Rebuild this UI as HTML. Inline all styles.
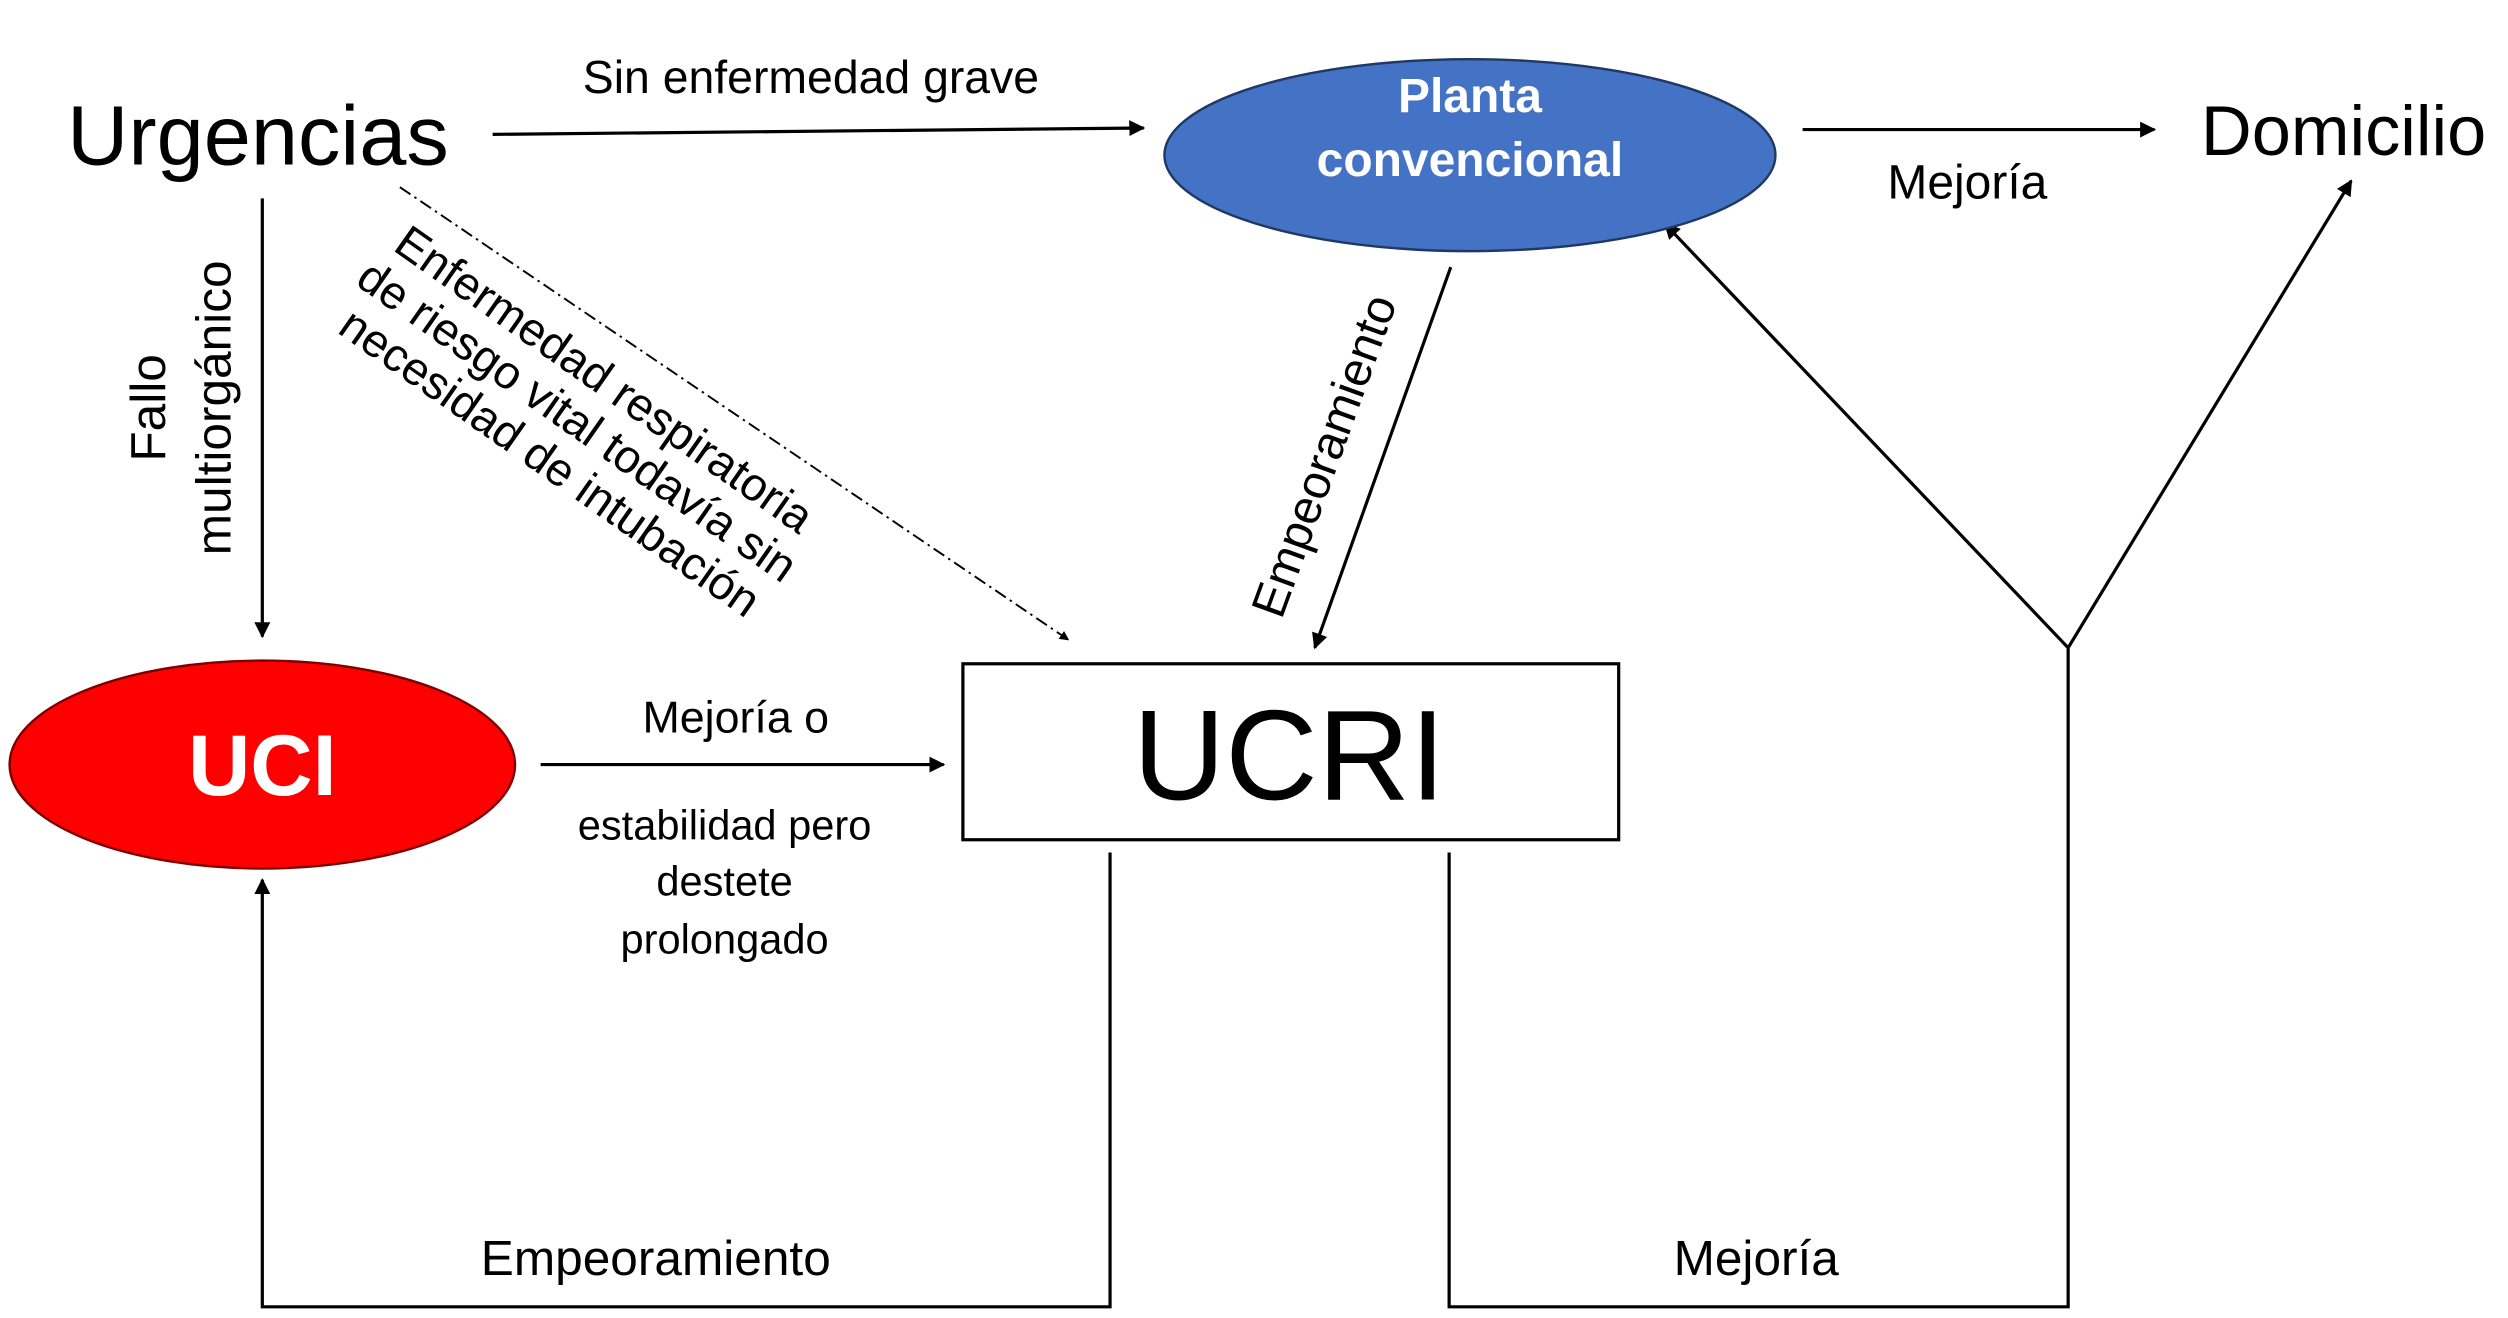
<!DOCTYPE html>
<html><head><meta charset="utf-8"><style>html,body{margin:0;padding:0;background:#fff}svg{display:block}text{font-family:"Liberation Sans",Arial,sans-serif}</style></head>
<body>
<svg width="2508" height="1318" viewBox="0 0 1568 824" xmlns="http://www.w3.org/2000/svg">
<defs>
<marker id="a" viewBox="0 0 10 10" refX="9" refY="5" markerWidth="5" markerHeight="5" orient="auto"><path d="M0,0 L10,5 L0,10 z" fill="#000"/></marker>
</defs>
<rect width="1568" height="824" fill="#fff"/>
<g stroke="#000" stroke-width="2" fill="none">
<line x1="308" y1="84" x2="715" y2="80" marker-end="url(#a)"/>
<line x1="1127" y1="81" x2="1347" y2="81" marker-end="url(#a)"/>
<line x1="164" y1="124" x2="164" y2="398" marker-end="url(#a)"/>
<line x1="250" y1="117" x2="668" y2="400" stroke-width="1.2" stroke-dasharray="8,3,1.5,3" marker-end="url(#a)"/>
<line x1="907" y1="167" x2="822" y2="405" marker-end="url(#a)"/>
<line x1="338" y1="478" x2="590" y2="478" marker-end="url(#a)"/>
<polyline points="694,533 694,817 164,817 164,550" marker-end="url(#a)"/>
<polyline points="906,533 906,817 1293,817 1293,405"/>
<line x1="1293" y1="405" x2="1041" y2="140" marker-end="url(#a)"/>
<line x1="1293" y1="405" x2="1470" y2="113" marker-end="url(#a)"/>
</g>
<ellipse cx="919" cy="97" rx="191" ry="60" fill="#4472C4" stroke="#1f3864" stroke-width="1.5"/>
<ellipse cx="164" cy="478" rx="158" ry="65" fill="#FF0000" stroke="#7f0000" stroke-width="1.5"/>
<rect x="602" y="415" width="410" height="110" fill="#fff" stroke="#000" stroke-width="2"/>
<g fill="#000">
<text x="42" y="103" font-size="53">Urgencias</text>
<text x="507" y="58" font-size="29" text-anchor="middle">Sin enfermedad grave</text>
<text x="1376" y="97" font-size="44">Domicilio</text>
<text x="1230" y="124" font-size="30" text-anchor="middle">Mejoría</text>
<text x="806" y="500" font-size="80" text-anchor="middle">UCRI</text>
<text x="460" y="458" font-size="28" text-anchor="middle">Mejoría o</text>
<text x="453" y="525" font-size="26" text-anchor="middle">estabilidad pero</text>
<text x="453" y="560" font-size="26" text-anchor="middle">destete</text>
<text x="453" y="596" font-size="26" text-anchor="middle">prolongado</text>
<text x="410" y="797" font-size="31" text-anchor="middle">Empeoramiento</text>
<text x="1098" y="797" font-size="31" text-anchor="middle">Mejoría</text>
<g transform="translate(92,255) rotate(-90)"><text x="0" y="11" font-size="31" text-anchor="middle">Fallo</text></g>
<g transform="translate(133,255) rotate(-90)"><text x="0" y="11" font-size="31" text-anchor="middle">multiorgánico</text></g>
<g transform="translate(378,237) rotate(35)"><text x="0" y="10" font-size="29" text-anchor="middle">Enfermedad respiratoria</text></g>
<g transform="translate(361,263) rotate(35)"><text x="0" y="10" font-size="29" text-anchor="middle">de riesgo vital todavía sin</text></g>
<g transform="translate(344,289) rotate(35)"><text x="0" y="10" font-size="29" text-anchor="middle">necesidad de intubación</text></g>
<g transform="translate(828,285) rotate(-70)"><text x="0" y="10" font-size="30" text-anchor="middle">Empeoramiento</text></g>
</g>
<g fill="#fff" font-weight="bold" text-anchor="middle">
<text x="919" y="70" font-size="30" font-weight="bold">Planta</text>
<text x="919" y="110" font-size="30" font-weight="bold">convencional</text>
<text x="164" y="497" font-size="54" font-weight="bold">UCI</text>
</g>
</svg>
</body></html>
